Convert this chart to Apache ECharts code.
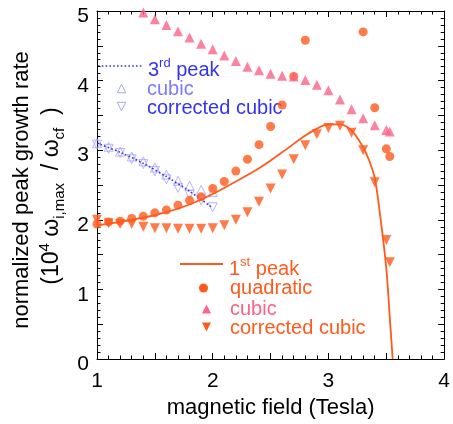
<!DOCTYPE html>
<html>
<head>
<meta charset="utf-8">
<script src="https://cdn.jsdelivr.net/npm/echarts@6/dist/echarts.min.js"></script>
<style>
  html, body { margin: 0; padding: 0; background: #fff; }
  #chart { width: 453px; height: 424px; }
</style>
</head>
<body>
<div id="chart"></div>
<script>
// Normalized peak growth rate (10^4 w_i,max / w_cf) versus magnetic field (Tesla)

// 3rd peak: fitted curve and the two cubic estimates
const peak3X = [1.0, 1.2, 1.4, 1.6, 1.8, 2.0];
const peak3Y = [3.10, 2.97, 2.81, 2.62, 2.41, 2.17];

const peak3CubicX = [1.0, 1.1, 1.2, 1.3, 1.4, 1.5, 1.6, 1.7, 1.8, 1.9, 2.0];
const peak3CubicY = [3.10, 3.05, 2.98, 2.91, 2.84, 2.75, 2.65, 2.56, 2.49, 2.43, 2.40];

const peak3CorrX = [1.0, 1.1, 1.2, 1.3, 1.4, 1.5, 1.6, 1.7, 1.8, 1.9, 2.0];
const peak3CorrY = [3.08, 3.02, 2.96, 2.87, 2.80, 2.70, 2.58, 2.46, 2.36, 2.28, 2.18];

// 1st peak: fitted curve and the three estimates
const peak1X = [1.0, 1.2, 1.4, 1.6, 1.8, 2.0, 2.2, 2.4, 2.6, 2.8, 2.9, 3.0, 3.1, 3.2, 3.3, 3.35, 3.4, 3.45, 3.5, 3.53, 3.555];
const peak1Y = [1.92, 1.97, 2.03, 2.11, 2.22, 2.37, 2.55, 2.74, 2.97, 3.21, 3.31, 3.37, 3.37, 3.28, 3.04, 2.86, 2.60, 2.02, 1.30, 0.60, 0.0];

const quadX = [1.0, 1.1, 1.2, 1.3, 1.4, 1.5, 1.6, 1.7, 1.8, 1.9, 2.0, 2.1, 2.2, 2.3, 2.4, 2.5, 2.6, 2.7, 2.8, 3.3, 3.4, 3.5, 3.53];
const quadY = [1.94, 1.97, 1.98, 2.02, 2.05, 2.10, 2.14, 2.21, 2.28, 2.33, 2.45, 2.55, 2.70, 2.87, 3.08, 3.34, 3.65, 4.06, 4.58, 4.70, 3.61, 3.02, 2.91];

const cubicX = [1.4, 1.5, 1.6, 1.7, 1.8, 1.9, 2.0, 2.1, 2.2, 2.3, 2.4, 2.5, 2.6, 2.7, 2.8, 2.9, 3.0, 3.1, 3.2, 3.3, 3.4, 3.5, 3.53];
const cubicY = [4.98, 4.88, 4.80, 4.71, 4.62, 4.53, 4.45, 4.36, 4.28, 4.20, 4.15, 4.10, 4.07, 4.06, 4.01, 3.94, 3.86, 3.73, 3.59, 3.46, 3.36, 3.29, 3.27];

const corrX = [1.0, 1.1, 1.2, 1.3, 1.4, 1.5, 1.6, 1.7, 1.8, 1.9, 2.0, 2.1, 2.2, 2.3, 2.4, 2.5, 2.6, 2.7, 2.8, 2.9, 3.0, 3.1, 3.2, 3.3, 3.4, 3.5, 3.53];
const corrY = [2.00, 1.95, 1.94, 1.94, 1.90, 1.88, 1.88, 1.87, 1.87, 1.87, 1.88, 1.92, 2.00, 2.11, 2.26, 2.45, 2.65, 2.87, 3.07, 3.23, 3.32, 3.35, 3.25, 3.00, 2.54, 1.71, 1.39];

const xTicks = [1, 2, 3, 4];
const yTicks = [0, 1, 2, 3, 4, 5];

const pairs = (xs, ys) => xs.map((x, i) => [x, ys[i]]);

const ORANGE = '#ff5a1c';
const PINK = '#fb6488';
const BLUE = '#3434f0';
const BLUE_LIGHT = '#7c7cff';
const BLUE_MARK = '#a4a4ff';
const FONT = "'Liberation Sans', Arial, Helvetica, sans-serif";

const chart = echarts.init(document.getElementById('chart'), null, { renderer: 'canvas' });

function axisCommon(extra) {
  return Object.assign({
    type: 'value',
    axisLine: { show: true, onZero: false, lineStyle: { color: '#000', width: 1 } },
    axisTick: { show: true, inside: true, length: 6, lineStyle: { color: '#000', width: 1 } },
    minorTick: { show: true, splitNumber: 5, length: 3.5, lineStyle: { color: '#000', width: 1 } },
    splitLine: { show: false },
    minorSplitLine: { show: false }
  }, extra);
}

const tickLabel = (ticks) => (v) => (ticks.indexOf(Math.round(v * 1000) / 1000) >= 0 ? String(v) : '');

// legend glyphs: small triangles drawn as polygons around a centre
const triUp = (cx, cy, s) => [[cx, cy - s * 0.5], [cx + s * 0.5, cy + s * 0.5], [cx - s * 0.5, cy + s * 0.5]];
const triDown = (cx, cy, s) => [[cx - s * 0.5, cy - s * 0.5], [cx + s * 0.5, cy - s * 0.5], [cx, cy + s * 0.5]];

const option = {
  animation: false,
  backgroundColor: '#fff',
  grid: { left: 97, right: 4, top: 11, bottom: 60, containLabel: false },
  xAxis: [
    axisCommon({
      min: 1, max: 4, interval: 0.5, position: 'bottom',
      axisLabel: { show: true, formatter: tickLabel(xTicks), fontSize: 21, fontFamily: FONT, color: '#000', margin: 12, showMinLabel: true, showMaxLabel: true },
      name: 'magnetic field (Tesla)', nameLocation: 'middle', nameGap: 38,
      nameTextStyle: { fontSize: 22, fontFamily: FONT, color: '#000' }
    }),
    axisCommon({
      min: 1, max: 4, interval: 0.5, position: 'top',
      axisLabel: { show: false }
    })
  ],
  yAxis: [
    axisCommon({
      min: 0, max: 5, interval: 0.5, position: 'left',
      axisLabel: {
        show: true, formatter: tickLabel(yTicks), fontSize: 21, fontFamily: FONT, color: '#000',
        margin: 8, verticalAlign: 'top', lineHeight: 11, showMinLabel: true, showMaxLabel: true
      }
    }),
    axisCommon({
      min: 0, max: 5, interval: 0.5, position: 'right',
      axisLabel: { show: false }
    })
  ],
  series: [
    {
      name: '3rd peak', type: 'line', data: pairs(peak3X, peak3Y),
      showSymbol: false, smooth: 0.3, z: 3,
      lineStyle: { color: BLUE, width: 1.6, type: [1.6, 2.2] }
    },
    {
      name: '3rd cubic', type: 'scatter', data: pairs(peak3CubicX, peak3CubicY),
      symbol: 'triangle', symbolSize: 9, z: 2,
      itemStyle: { color: 'rgba(255,255,255,0)', borderColor: BLUE_MARK, borderWidth: 1 }
    },
    {
      name: '3rd corrected cubic', type: 'scatter', data: pairs(peak3CorrX, peak3CorrY),
      symbol: 'triangle', symbolRotate: 180, symbolSize: 9, z: 2,
      itemStyle: { color: 'rgba(255,255,255,0)', borderColor: BLUE_MARK, borderWidth: 1 }
    },
    {
      name: '1st peak', type: 'line', data: pairs(peak1X, peak1Y),
      showSymbol: false, smooth: 0.35, z: 4,
      lineStyle: { color: ORANGE, width: 1.8 }
    },
    {
      name: 'quadratic', type: 'scatter', data: pairs(quadX, quadY),
      symbol: 'circle', symbolSize: 9, z: 5,
      itemStyle: { color: ORANGE }
    },
    {
      name: 'cubic', type: 'scatter', data: pairs(cubicX, cubicY),
      symbol: 'triangle', symbolSize: 10, z: 5,
      itemStyle: { color: PINK }
    },
    {
      name: 'corrected cubic', type: 'scatter', data: pairs(corrX, corrY),
      symbol: 'triangle', symbolRotate: 180, symbolSize: 10, z: 5,
      itemStyle: { color: ORANGE }
    }
  ],
  graphic: [
    // y-axis title, two lines
    {
      type: 'text', x: 22, y: 190, rotation: Math.PI / 2,
      style: { text: 'normalized peak growth rate', font: '22px ' + FONT, fill: '#000', align: 'center', verticalAlign: 'middle' }
    },
    {
      type: 'text', x: 52, y: 196, rotation: Math.PI / 2,
      style: {
        text: '{n|(10}{sup|4}{n| ω}{sub|i,max}{n|  / ω}{sub|cf}{n|  )}',
        align: 'center', verticalAlign: 'middle', fill: '#000',
        rich: {
          n: { fontSize: 23, fontFamily: FONT, verticalAlign: 'middle', lineHeight: 30 },
          sup: { fontSize: 15, fontFamily: FONT, verticalAlign: 'top', lineHeight: 30 },
          sub: { fontSize: 15, fontFamily: FONT, verticalAlign: 'bottom', lineHeight: 30 }
        }
      }
    },
    // 3rd peak legend
    {
      type: 'line', shape: { x1: 98, y1: 66, x2: 143, y2: 66 },
      style: { stroke: BLUE, lineWidth: 1.6, lineDash: [1.6, 2.2] }
    },
    {
      type: 'text', x: 148, y: 70,
      style: {
        text: '{n|3}{sup|rd}{n| peak}', align: 'left', verticalAlign: 'middle', fill: BLUE,
        rich: {
          n: { fontSize: 20, fontFamily: FONT, verticalAlign: 'middle', lineHeight: 26, fill: BLUE },
          sup: { fontSize: 13, fontFamily: FONT, verticalAlign: 'top', lineHeight: 26, fill: BLUE }
        }
      }
    },
    {
      type: 'polygon', shape: { points: triUp(121.5, 88.5, 8.5) },
      style: { fill: 'none', stroke: BLUE_MARK, lineWidth: 1 }
    },
    {
      type: 'text', x: 147, y: 89,
      style: { text: 'cubic', font: '20px ' + FONT, fill: BLUE_LIGHT, align: 'left', verticalAlign: 'middle' }
    },
    {
      type: 'polygon', shape: { points: triDown(121.5, 106.5, 8.5) },
      style: { fill: 'none', stroke: BLUE_MARK, lineWidth: 1 }
    },
    {
      type: 'text', x: 147, y: 108,
      style: { text: 'corrected cubic', font: '20px ' + FONT, fill: BLUE, align: 'left', verticalAlign: 'middle' }
    },
    // 1st peak legend
    {
      type: 'line', shape: { x1: 180, y1: 264, x2: 223, y2: 264 },
      style: { stroke: ORANGE, lineWidth: 1.8 }
    },
    {
      type: 'text', x: 229, y: 269,
      style: {
        text: '{n|1}{sup|st}{n| peak}', align: 'left', verticalAlign: 'middle',
        rich: {
          n: { fontSize: 20, fontFamily: FONT, verticalAlign: 'middle', lineHeight: 26, fill: ORANGE },
          sup: { fontSize: 13, fontFamily: FONT, verticalAlign: 'top', lineHeight: 26, fill: ORANGE }
        }
      }
    },
    {
      type: 'circle', shape: { cx: 203.5, cy: 288, r: 4.5 },
      style: { fill: ORANGE }
    },
    {
      type: 'text', x: 230, y: 288,
      style: { text: 'quadratic', font: '20px ' + FONT, fill: ORANGE, align: 'left', verticalAlign: 'middle' }
    },
    {
      type: 'polygon', shape: { points: triUp(206.5, 309, 9) },
      style: { fill: PINK }
    },
    {
      type: 'text', x: 230, y: 309,
      style: { text: 'cubic', font: '20px ' + FONT, fill: PINK, align: 'left', verticalAlign: 'middle' }
    },
    {
      type: 'polygon', shape: { points: triDown(206.5, 327, 9) },
      style: { fill: ORANGE }
    },
    {
      type: 'text', x: 230, y: 328,
      style: { text: 'corrected cubic', font: '20px ' + FONT, fill: ORANGE, align: 'left', verticalAlign: 'middle' }
    }
  ]
};

chart.setOption(option);
</script>
</body>
</html>
